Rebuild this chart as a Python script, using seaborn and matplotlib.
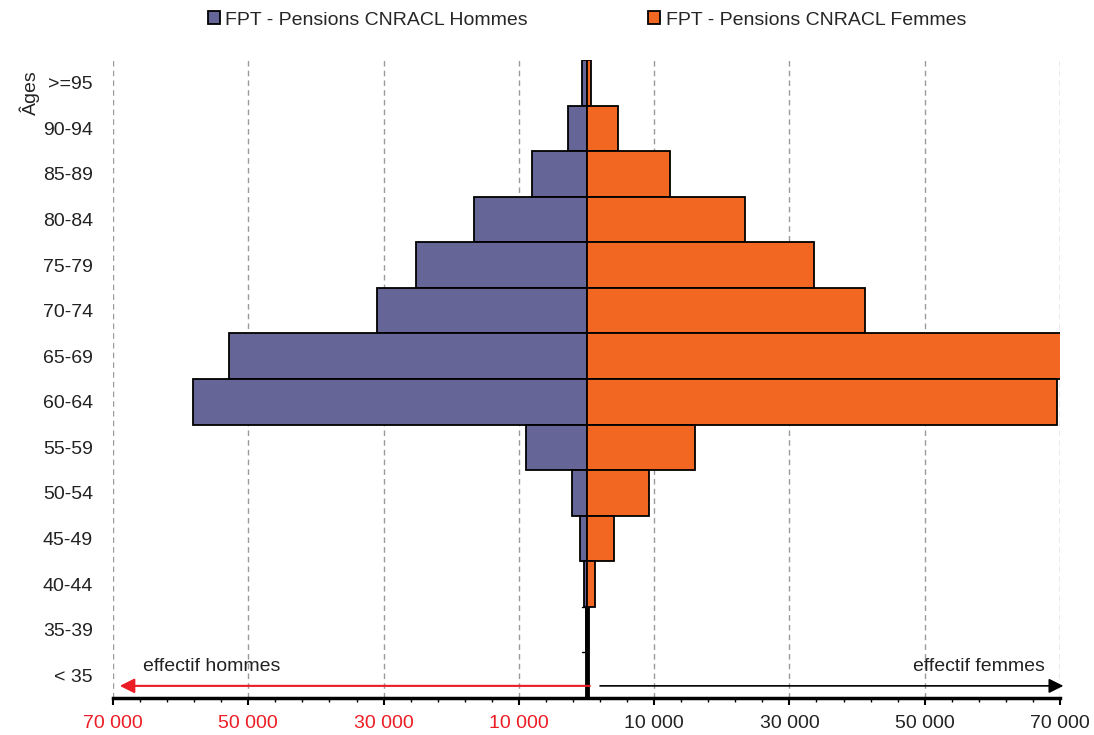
import numpy as np
import pandas as pd
import matplotlib
matplotlib.use("Agg")
import matplotlib.pyplot as plt
import seaborn as sns

ages = [">=95", "90-94", "85-89", "80-84", "75-79", "70-74", "65-69",
        "60-64", "55-59", "50-54", "45-49", "40-44", "35-39", "< 35"]
hommes = [700, 2800, 8100, 16600, 25200, 30900, 52900,
          58100, 9000, 2200, 1000, 300, 50, 0]
femmes = [600, 4700, 12400, 23400, 33700, 41100, 73000,
          69500, 16000, 9200, 4100, 1200, 100, 0]
major_ticks = [-70000, -50000, -30000, -10000, 10000, 30000, 50000, 70000]
label_h = "FPT - Pensions CNRACL Hommes"
label_f = "FPT - Pensions CNRACL Femmes"

c_h = "#656598"
c_f = "#F26822"
red = "#EC1C24"
fs = 14

sns.set_style("white")
plt.rcParams["font.family"] = ["Liberation Sans", "DejaVu Sans"]

fig = plt.figure(figsize=(10.94, 7.35), dpi=100)
ax = fig.add_axes([113/1094, 1-698/735, (1060-113)/1094, (698-60)/735])

df = pd.DataFrame({"age": ages, "hommes": [-v for v in hommes], "femmes": femmes})

sns.barplot(data=df, x="hommes", y="age", orient="h", color=c_h, saturation=1,
            width=1, edgecolor="black", linewidth=1.3, errorbar=None, ax=ax,
            label=label_h, zorder=3)
sns.barplot(data=df, x="femmes", y="age", orient="h", color=c_f, saturation=1,
            width=1, edgecolor="black", linewidth=1.3, errorbar=None, ax=ax,
            label=label_f, zorder=3)

ax.set_xlim(-70000, 70000)
ax.set_ylim(len(ages) - 0.5, -0.5)

# center axis line
ax.axvline(0, color="black", lw=3.5, zorder=2)
for yb in np.arange(len(ages) - 1) + 0.5:
    ax.plot([-700, 0], [yb, yb], color="black", lw=1, zorder=2)

# grid
for t in major_ticks:
    ax.axvline(t, color="#9a9a9a", lw=1, ls=(0, (4, 3)), zorder=1)

for s in ["top", "right", "left"]:
    ax.spines[s].set_visible(False)
ax.spines["bottom"].set_linewidth(2.5)
ax.spines["bottom"].set_color("black")

ax.set_xticks(major_ticks)
ax.set_xticklabels([f"{abs(v):,}".replace(",", " ") for v in major_ticks], fontsize=fs)
for lab, v in zip(ax.get_xticklabels(), major_ticks):
    lab.set_color(red if v < 0 else "#222222")
ax.set_xticks(np.arange(-70000, 70001, 4000), minor=True)
ax.tick_params(axis="x", which="major", direction="out", length=5, width=1.5,
               color="black", pad=7, bottom=True)
ax.tick_params(axis="x", which="minor", direction="out", length=3, width=1,
               color="black", bottom=True)
ax.tick_params(axis="y", which="both", length=0, pad=14.5, labelsize=fs,
               labelcolor="#222222")
ax.set_xlabel("")
ax.set_ylabel("")

fig.text(30/1094, 1-93/735, "Âges", rotation=90, ha="center", va="center",
         fontsize=fs, color="#222222")

# arrows
ax.annotate("", xy=(-69000, 0.019), xytext=(500, 0.019),
            xycoords=("data", "axes fraction"), textcoords=("data", "axes fraction"),
            arrowprops=dict(arrowstyle="-|>", color=red, lw=1.5,
                            mutation_scale=22, shrinkA=0, shrinkB=0), zorder=5)
ax.annotate("", xy=(70500, 0.019), xytext=(2000, 0.019),
            xycoords=("data", "axes fraction"), textcoords=("data", "axes fraction"),
            arrowprops=dict(arrowstyle="-|>", color="black", lw=1.2,
                            mutation_scale=22, shrinkA=0, shrinkB=0), zorder=5,
            annotation_clip=False)
ax.text(-65500, 0.049, "effectif hommes", transform=ax.get_xaxis_transform(),
        ha="left", va="center", fontsize=fs, color="#222222")
ax.text(67800, 0.049, "effectif femmes", transform=ax.get_xaxis_transform(),
        ha="right", va="center", fontsize=fs, color="#222222")

handles, labels = ax.get_legend_handles_labels()
if ax.get_legend() is not None:
    ax.get_legend().remove()
fig.legend(handles, labels, loc="center", bbox_to_anchor=(587/1094, 1-20/735),
           ncol=2, frameon=False, fontsize=fs, handlelength=0.62,
           handleheight=0.62, handletextpad=0.26, columnspacing=6.2)

fig.savefig("out.png", dpi=100)
